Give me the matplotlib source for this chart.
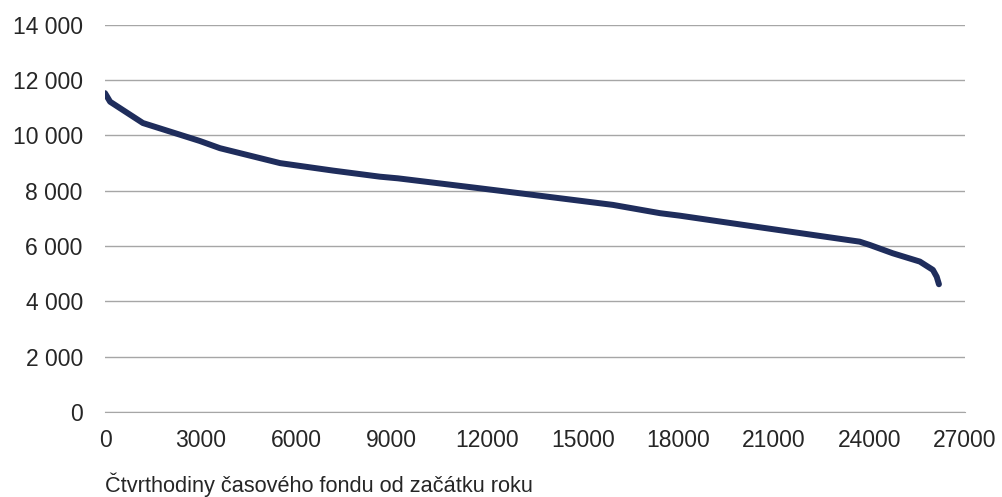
import numpy as np
import matplotlib.pyplot as plt
from matplotlib.ticker import FuncFormatter

plt.rcParams['font.family'] = ['Liberation Sans', 'DejaVu Sans']

# duration curve
quarters = [0, 160, 1190, 2980, 3610, 5500, 7160, 8630, 9200, 11770, 13870,
            15950, 17430, 18050, 20560, 23700, 24020, 24740, 25590, 26000,
            26120, 26190]
values = [11530, 11220, 10450, 9800, 9540, 9000, 8730, 8510, 8450, 8090, 7790,
          7490, 7190, 7100, 6680, 6160, 6040, 5740, 5440, 5140, 4890, 4620]

x_ticks = np.arange(0, 27001, 3000)
y_ticks = np.arange(0, 14001, 2000)


def main():
    fig = plt.figure(figsize=(10.02, 4.97), dpi=100)
    ax = fig.add_axes([0.1048, 0.171, 0.858, 0.779])

    ax.plot(quarters, values, color='#1f2d5c', linewidth=4.3,
            solid_capstyle='round', solid_joinstyle='round', zorder=3)

    ax.set_xlim(0, 27000)
    ax.set_ylim(0, 14000)
    ax.set_xticks(x_ticks)
    ax.set_yticks(y_ticks)
    ax.yaxis.set_major_formatter(FuncFormatter(lambda v, p: f'{int(v):,}'.replace(',', ' ')))

    ax.grid(axis='y', color='#a6a6a6', linewidth=1.0)
    ax.set_axisbelow(True)
    for s in ['top', 'right', 'left']:
        ax.spines[s].set_visible(False)
    ax.spines['bottom'].set_color('#a6a6a6')
    ax.tick_params(axis='both', length=0, labelsize=16.5, colors='#262626')
    ax.tick_params(axis='y', pad=16)
    ax.tick_params(axis='x', pad=12)

    fig.text(0.1048, 0.024, 'Čtvrthodiny časového fondu od začátku roku',
             fontsize=15.7, color='#262626', ha='left', va='center')

    fig.savefig('out.png', dpi=100)


if __name__ == '__main__':
    main()
